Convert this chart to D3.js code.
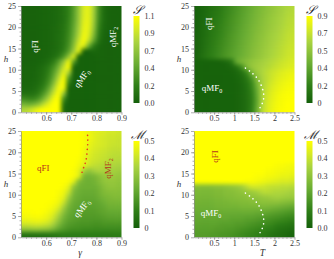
<!DOCTYPE html>
<html>
<head>
<meta charset="utf-8">
<script src="https://cdn.jsdelivr.net/npm/d3@7"></script>
<style>
  body { margin: 0; background: #fff; }
  text { font-family: "Liberation Serif", "Times New Roman", serif; }
</style>
</head>
<body>
<svg id="chart" width="334" height="259"></svg>
<script>
// grid centres
const hRows = [24.375, 23.125, 21.875, 20.625, 19.375, 18.125, 16.875, 15.625, 14.375, 13.125,
               11.875, 10.625, 9.375, 8.125, 6.875, 5.625, 4.375, 3.125, 1.875, 0.625]
const gammaCols = [0.51, 0.53, 0.55, 0.57, 0.59, 0.61, 0.63, 0.65, 0.67, 0.69,
                   0.71, 0.73, 0.75, 0.77, 0.79, 0.81, 0.83, 0.85, 0.87, 0.89]
const tempCols = [0.0625, 0.1875, 0.3125, 0.4375, 0.5625, 0.6875, 0.8125, 0.9375, 1.0625, 1.1875,
                  1.3125, 1.4375, 1.5625, 1.6875, 1.8125, 1.9375, 2.0625, 2.1875, 2.3125, 2.4375]

// S vs gamma (rows top -> bottom)
const sGamma = [
  [.03,.03,.03,.03,.04,.05,.06,.08,.13,.22,.4,.68,.95,1.0,.75,.3,.08,.04,.03,.03],
  [.03,.03,.03,.03,.04,.05,.06,.08,.13,.22,.41,.69,.96,1.0,.74,.29,.08,.04,.03,.03],
  [.03,.03,.03,.03,.04,.05,.06,.08,.13,.23,.42,.7,.97,1.0,.72,.28,.08,.04,.03,.03],
  [.03,.03,.03,.03,.04,.05,.06,.09,.14,.25,.45,.72,1.0,1.0,.7,.25,.07,.04,.03,.03],
  [.03,.03,.03,.03,.04,.05,.07,.09,.15,.26,.47,.76,1.02,.98,.65,.22,.06,.04,.03,.03],
  [.03,.03,.03,.03,.04,.05,.07,.1,.16,.28,.5,.8,1.05,.95,.58,.18,.05,.03,.03,.03],
  [.03,.03,.03,.03,.04,.05,.07,.1,.17,.3,.55,.88,1.08,.85,.45,.13,.04,.03,.03,.03],
  [.03,.03,.03,.03,.04,.05,.07,.1,.18,.33,.62,.98,1.0,.5,.18,.06,.03,.03,.03,.03],
  [.03,.03,.03,.03,.04,.05,.08,.12,.22,.4,.72,1.02,.02,.02,.06,.04,.03,.03,.03,.03],
  [.03,.03,.03,.03,.04,.06,.1,.18,.35,.65,1.0,.02,.02,.02,.02,.04,.03,.03,.03,.03],
  [.03,.03,.03,.04,.06,.1,.2,.4,.7,1.05,.4,.02,.02,.02,.02,.03,.03,.03,.03,.03],
  [.04,.04,.04,.06,.1,.18,.32,.55,.88,1.1,.02,.02,.02,.02,.02,.03,.03,.03,.03,.03],
  [.04,.04,.05,.07,.12,.22,.4,.68,1.0,.8,.02,.02,.02,.02,.02,.03,.03,.03,.03,.03],
  [.04,.04,.05,.08,.14,.26,.48,.82,1.1,.4,.02,.02,.02,.02,.02,.03,.03,.03,.03,.03],
  [.05,.05,.06,.09,.17,.32,.6,.95,1.1,.2,.02,.02,.02,.02,.02,.03,.03,.03,.03,.03],
  [.06,.06,.08,.13,.24,.44,.76,1.05,1.05,.02,.02,.02,.02,.02,.02,.03,.03,.03,.03,.03],
  [.12,.11,.13,.2,.36,.6,.9,1.1,.7,.02,.02,.02,.02,.02,.02,.03,.03,.03,.03,.03],
  [.3,.26,.26,.35,.55,.8,1.05,1.1,.3,.02,.02,.02,.02,.02,.02,.03,.03,.03,.03,.03],
  [.55,.5,.55,.65,.85,1.0,1.1,1.1,.1,.02,.02,.02,.02,.02,.02,.03,.03,.03,.03,.03],
  [.8,.85,.95,1.05,1.1,1.1,1.1,1.1,.05,.02,.02,.02,.02,.02,.02,.03,.03,.03,.03,.03]
]

// S vs T
const sTemp = [
  [.02,.04,.07,.1,.13,.17,.21,.25,.29,.33,.37,.41,.45,.48,.52,.55,.58,.61,.64,.66],
  [.02,.04,.08,.11,.14,.18,.22,.26,.3,.34,.38,.42,.46,.49,.53,.56,.59,.62,.65,.67],
  [.02,.05,.08,.12,.15,.19,.23,.27,.31,.35,.39,.43,.47,.5,.54,.57,.6,.63,.66,.68],
  [.02,.05,.09,.13,.16,.2,.24,.28,.32,.36,.4,.44,.48,.51,.55,.58,.61,.64,.67,.69],
  [.02,.06,.1,.14,.17,.21,.25,.29,.33,.37,.41,.45,.49,.52,.56,.59,.62,.65,.68,.7],
  [.03,.06,.1,.14,.18,.22,.26,.3,.34,.38,.42,.46,.5,.53,.57,.6,.63,.66,.69,.71],
  [.03,.07,.11,.15,.19,.23,.27,.31,.35,.39,.43,.47,.51,.54,.58,.61,.64,.67,.7,.72],
  [.03,.07,.12,.16,.2,.24,.28,.32,.36,.4,.44,.48,.52,.55,.59,.62,.65,.68,.71,.73],
  [.03,.08,.13,.17,.21,.25,.29,.33,.37,.41,.45,.49,.53,.56,.6,.63,.66,.69,.72,.74],
  [.04,.09,.14,.18,.22,.26,.3,.34,.38,.42,.46,.5,.54,.57,.61,.64,.67,.7,.73,.75],
  [.02,.02,.02,.02,.02,.03,.05,.12,.4,.47,.51,.55,.58,.61,.64,.67,.7,.73,.75,.77],
  [.02,.02,.02,.02,.02,.02,.03,.05,.1,.25,.48,.56,.6,.63,.66,.69,.72,.75,.77,.79],
  [.02,.02,.02,.02,.02,.02,.02,.03,.05,.1,.22,.45,.58,.64,.69,.73,.76,.79,.81,.83],
  [.02,.02,.02,.02,.02,.02,.02,.02,.04,.07,.14,.3,.52,.63,.69,.74,.78,.81,.83,.85],
  [.02,.02,.02,.02,.02,.02,.02,.02,.03,.06,.11,.22,.45,.62,.7,.76,.8,.83,.85,.87],
  [.02,.02,.02,.02,.02,.02,.02,.02,.03,.05,.1,.2,.4,.62,.72,.78,.82,.85,.87,.88],
  [.02,.02,.02,.02,.02,.02,.02,.02,.03,.05,.09,.18,.38,.62,.74,.8,.84,.87,.88,.89],
  [.02,.02,.02,.02,.02,.02,.02,.02,.03,.05,.09,.17,.36,.63,.75,.81,.85,.88,.89,.9],
  [.02,.02,.02,.02,.02,.02,.02,.02,.03,.05,.09,.17,.37,.64,.76,.82,.86,.88,.9,.9],
  [.02,.02,.02,.02,.02,.02,.02,.02,.03,.05,.09,.18,.4,.66,.77,.83,.87,.89,.9,.9]
]

// M vs gamma
const mGamma = [
  [.5,.5,.5,.5,.5,.5,.5,.5,.5,.5,.5,.5,.49,.47,.45,.44,.43,.42,.42,.41],
  [.5,.5,.5,.5,.5,.5,.5,.5,.5,.5,.5,.5,.49,.47,.45,.43,.42,.41,.41,.4],
  [.5,.5,.5,.5,.5,.5,.5,.5,.5,.5,.5,.5,.49,.46,.44,.43,.42,.41,.4,.4],
  [.5,.5,.5,.5,.5,.5,.5,.5,.5,.5,.5,.5,.48,.45,.43,.42,.41,.4,.39,.39],
  [.5,.5,.5,.5,.5,.5,.5,.5,.5,.5,.5,.5,.47,.44,.42,.41,.4,.39,.38,.38],
  [.5,.5,.5,.5,.5,.5,.5,.5,.5,.5,.5,.49,.46,.43,.41,.4,.39,.38,.37,.37],
  [.5,.5,.5,.5,.5,.5,.5,.5,.5,.5,.5,.48,.45,.41,.39,.38,.37,.36,.36,.35],
  [.5,.5,.5,.5,.5,.5,.5,.5,.5,.5,.49,.46,.35,.3,.34,.36,.35,.34,.34,.33],
  [.5,.5,.5,.5,.5,.5,.5,.5,.5,.5,.49,.45,.25,.24,.25,.28,.31,.32,.32,.31],
  [.5,.5,.5,.5,.5,.5,.5,.5,.5,.49,.44,.27,.24,.23,.24,.27,.3,.31,.31,.3],
  [.5,.5,.5,.5,.5,.5,.5,.5,.49,.45,.3,.24,.23,.23,.23,.25,.28,.3,.3,.29],
  [.5,.5,.5,.5,.5,.5,.5,.49,.47,.4,.26,.23,.22,.22,.22,.24,.27,.28,.28,.28],
  [.5,.5,.5,.5,.5,.5,.5,.48,.45,.33,.24,.22,.21,.21,.21,.23,.25,.26,.27,.27],
  [.5,.5,.5,.5,.5,.5,.49,.47,.4,.28,.22,.21,.2,.2,.2,.21,.23,.25,.25,.25],
  [.5,.5,.5,.5,.5,.49,.47,.43,.33,.24,.21,.2,.19,.19,.19,.2,.21,.23,.23,.23],
  [.49,.49,.5,.5,.49,.47,.44,.37,.28,.22,.2,.19,.18,.18,.18,.19,.2,.21,.21,.21],
  [.47,.47,.48,.48,.47,.45,.4,.32,.24,.2,.19,.18,.17,.17,.17,.17,.18,.19,.19,.19],
  [.42,.42,.43,.43,.42,.4,.35,.27,.21,.18,.17,.16,.16,.16,.15,.15,.16,.16,.16,.16],
  [.3,.3,.31,.31,.3,.29,.25,.2,.17,.15,.14,.14,.13,.13,.13,.13,.13,.13,.13,.13],
  [.05,.05,.05,.05,.05,.06,.07,.08,.09,.09,.09,.09,.09,.09,.09,.09,.09,.09,.09,.09]
]

// M vs T
const mTemp = [
  [.5,.5,.5,.5,.5,.5,.5,.5,.5,.5,.5,.5,.5,.5,.5,.5,.5,.5,.5,.5],
  [.5,.5,.5,.5,.5,.5,.5,.5,.5,.5,.5,.5,.5,.5,.5,.5,.5,.5,.5,.5],
  [.5,.5,.5,.5,.5,.5,.5,.5,.5,.5,.5,.5,.5,.5,.5,.5,.5,.5,.5,.5],
  [.5,.5,.5,.5,.5,.5,.5,.5,.5,.5,.5,.5,.5,.5,.5,.5,.5,.5,.5,.5],
  [.5,.5,.5,.5,.5,.5,.5,.5,.5,.5,.5,.5,.5,.5,.5,.5,.5,.5,.5,.5],
  [.5,.5,.5,.5,.5,.5,.5,.5,.5,.5,.5,.5,.5,.5,.5,.5,.5,.5,.5,.5],
  [.5,.5,.5,.5,.5,.5,.5,.5,.5,.5,.5,.5,.5,.5,.5,.5,.49,.49,.48,.48],
  [.5,.5,.5,.5,.5,.5,.5,.5,.5,.5,.5,.5,.5,.5,.49,.49,.48,.48,.47,.47],
  [.5,.5,.5,.5,.5,.5,.5,.5,.5,.5,.5,.5,.49,.49,.48,.48,.47,.46,.46,.45],
  [.5,.5,.5,.5,.5,.5,.5,.5,.5,.5,.49,.49,.48,.47,.46,.45,.44,.43,.43,.42],
  [.27,.27,.27,.27,.28,.28,.29,.3,.31,.33,.38,.42,.42,.41,.4,.39,.39,.38,.38,.37],
  [.26,.26,.26,.26,.27,.27,.28,.28,.29,.3,.31,.32,.34,.37,.38,.37,.36,.36,.35,.34],
  [.25,.25,.25,.25,.26,.26,.27,.27,.28,.28,.29,.3,.3,.31,.32,.33,.34,.33,.32,.32],
  [.24,.24,.24,.24,.25,.25,.25,.26,.26,.27,.27,.28,.28,.29,.29,.29,.29,.28,.27,.26],
  [.23,.23,.23,.23,.24,.24,.24,.24,.24,.25,.25,.25,.25,.25,.25,.24,.23,.22,.21,.2],
  [.22,.22,.22,.22,.22,.22,.22,.22,.22,.22,.22,.22,.21,.21,.2,.19,.18,.17,.16,.15],
  [.21,.21,.21,.21,.21,.21,.21,.2,.2,.2,.19,.19,.18,.17,.16,.15,.14,.13,.12,.11],
  [.2,.2,.2,.2,.2,.19,.19,.19,.18,.18,.17,.16,.15,.14,.13,.12,.1,.09,.08,.07],
  [.19,.19,.19,.19,.18,.18,.17,.17,.16,.15,.14,.13,.12,.11,.1,.09,.07,.06,.05,.04],
  [.18,.18,.18,.17,.17,.16,.16,.15,.14,.13,.12,.11,.1,.09,.08,.06,.05,.04,.03,.02]
]

// dotted boundaries
const whiteDotT = [1.28, 1.41, 1.53, 1.63, 1.69, 1.73, 1.73, 1.69, 1.63]
const whiteDotH = [10.4, 9.5, 8.5, 7.2, 5.9, 4.5, 3.1, 1.9, 0.9]
const redDotGamma = [0.743, 0.75, 0.757, 0.761, 0.763, 0.765, 0.766, 0.765]
const redDotH = [15.3, 16.5, 17.7, 18.9, 20.2, 21.4, 22.8, 24.1]

// ticks
const hTicks = [0, 5, 10, 15, 20, 25]
const gammaTicks = [0.6, 0.7, 0.8, 0.9]
const gammaTickLabels = ["0.6", "0.7", "0.8", "0.9"]
const tempTicks = [0.5, 1, 1.5, 2, 2.5]
const tempTickLabels = ["0.5", "1", "1.5", "2", "2.5"]
const cbTicksSG = [0, 0.22, 0.44, 0.66, 0.88, 1.1]
const cbLabelsSG = ["0.0", "0.2", "0.4", "0.7", "0.9", "1.1"]
const cbTicksST = [0, 0.18, 0.36, 0.54, 0.72, 0.9]
const cbLabelsST = ["0", "0.2", "0.4", "0.5", "0.7", "0.9"]
const cbTicksM = [0, 0.1, 0.2, 0.3, 0.4, 0.5]
const cbLabelsMG = ["0", "0.1", "0.2", "0.3", "0.4", "0.5"]
const cbLabelsMT = ["0.0", "0.1", "0.2", "0.3", "0.4", "0.5"]

// colour ramp shared by all panels (fraction of colour-bar max)
const ramp = d3.scaleLinear()
               .domain([0, 0.2, 0.45, 0.7, 0.85, 1])
               .range(["#145f0a", "#2f7f17", "#6aad33", "#a9d33f", "#d6ea25", "#ffff00"])
               .clamp(true)

const svg = d3.select("#chart")
const defs = svg.append("defs")
const plotW = 100.5, plotH = 106.3
const hStep = 1.25

// blur the cell grid a little and keep it opaque up to the edges
const smooth = defs.append("filter").attr("id", "smooth")
                   .attr("x", 0).attr("y", 0).attr("width", 1).attr("height", 1)
                   .attr("color-interpolation-filters", "sRGB")
smooth.append("feGaussianBlur").attr("stdDeviation", 2.2)
smooth.append("feComponentTransfer").append("feFuncA").attr("type", "table").attr("tableValues", "1 1")

const panels = [
  {id: "sg", left: 21, top: 6, cols: gammaCols, step: 0.02, xDomain: [0.5, 0.9], values: sGamma, max: 1.1,
   xTicks: gammaTicks, xLabels: gammaTickLabels, xMinor: d3.range(0.52, 0.9, 0.02), cbTicks: cbTicksSG, cbLabels: cbLabelsSG,
   title: "S", xTitle: null},
  {id: "st", left: 194, top: 6, cols: tempCols, step: 0.125, xDomain: [0, 2.5], values: sTemp, max: 0.9,
   xTicks: tempTicks, xLabels: tempTickLabels, xMinor: d3.range(0.1, 2.5, 0.1), cbTicks: cbTicksST, cbLabels: cbLabelsST,
   title: "S", xTitle: null},
  {id: "mg", left: 21, top: 131, cols: gammaCols, step: 0.02, xDomain: [0.5, 0.9], values: mGamma, max: 0.5,
   xTicks: gammaTicks, xLabels: gammaTickLabels, xMinor: d3.range(0.52, 0.9, 0.02), cbTicks: cbTicksM, cbLabels: cbLabelsMG,
   title: "M", xTitle: "γ", xTitleAt: 0.735},
  {id: "mt", left: 194, top: 131, cols: tempCols, step: 0.125, xDomain: [0, 2.5], values: mTemp, max: 0.5,
   xTicks: tempTicks, xLabels: tempTickLabels, xMinor: d3.range(0.1, 2.5, 0.1), cbTicks: cbTicksM, cbLabels: cbLabelsMT,
   title: "M", xTitle: "T", xTitleAt: 1.7}
]

const scales = {}

panels.forEach(p => {
    const x = d3.scaleLinear().domain(p.xDomain).range([p.left, p.left + plotW])
    const y = d3.scaleLinear().domain([0, 25]).range([p.top + plotH, p.top])
    scales[p.id] = {x, y}
    const g = svg.append("g")

    // heat map cells
    defs.append("clipPath").attr("id", "clip-" + p.id)
        .append("rect").attr("x", p.left).attr("y", p.top).attr("width", plotW).attr("height", plotH)
    const cells = p.values.flatMap((row, i) => row.map((v, j) => ({h: hRows[i], c: p.cols[j], v})))
    g.append("g").attr("clip-path", `url(#clip-${p.id})`)
     .append("g").attr("filter", "url(#smooth)")
     .selectAll("rect")
     .data(cells)
     .join("rect")
     .attr("x", d => x(d.c - p.step / 2))
     .attr("y", d => y(d.h + hStep / 2))
     .attr("width", d => x(d.c + p.step / 2) - x(d.c - p.step / 2) + 0.5)
     .attr("height", d => y(d.h - hStep / 2) - y(d.h + hStep / 2) + 0.5)
     .attr("fill", d => ramp(d.v / p.max))

    // axes
    g.append("g").attr("transform", `translate(0,${p.top + plotH})`)
     .call(d3.axisBottom(x).tickValues(p.xTicks).tickFormat((d, i) => p.xLabels[i])
                           .tickSize(2.5).tickSizeOuter(0).tickPadding(1))
    g.append("g").attr("transform", `translate(0,${p.top + plotH})`)
     .call(d3.axisBottom(x).tickValues(p.xMinor).tickFormat("").tickSize(1.5))
     .call(a => a.select(".domain").remove())
    g.append("g").attr("transform", `translate(${p.left},0)`)
     .call(d3.axisLeft(y).tickValues(hTicks).tickSize(3).tickSizeOuter(0).tickPadding(2))
    g.append("g").attr("transform", `translate(${p.left},0)`)
     .call(d3.axisLeft(y).tickValues(d3.range(1, 25, 1)).tickFormat("").tickSize(1.5))
     .call(a => a.select(".domain").remove())
    g.selectAll(".domain, .tick line").attr("stroke", "#8c8c8c").attr("stroke-width", 0.7)
    g.selectAll(".tick text").attr("fill", "#333").style("font-size", "8px")
     .style("font-family", '"Liberation Serif", serif')

    // h sits between the 15 and 10 tick labels
    g.append("text").attr("x", p.left - 15).attr("y", y(12.5) + 3)
     .attr("text-anchor", "middle").style("font-style", "italic").style("font-size", "9px")
     .attr("fill", "#333").text("h")
    if (p.xTitle) {
        g.append("text").attr("x", x(p.xTitleAt)).attr("y", p.top + plotH + 19)
         .attr("text-anchor", "middle").style("font-style", "italic").style("font-size", "9.5px")
         .attr("fill", "#333").text(p.xTitle)
    }

    // colour bar
    const cbX = p.left + plotW + 12, cbTop = p.top + 10, cbBottom = p.top + 97
    const cb = d3.scaleLinear().domain([0, p.max]).range([cbBottom, cbTop])
    const gradId = "grad-" + p.id
    defs.append("linearGradient").attr("id", gradId)
        .attr("x1", 0).attr("y1", 1).attr("x2", 0).attr("y2", 0)
        .selectAll("stop")
        .data(ramp.domain())
        .join("stop")
        .attr("offset", d => d)
        .attr("stop-color", d => ramp(d))
    g.append("rect").attr("x", cbX).attr("y", cbTop).attr("width", 6).attr("height", cbBottom - cbTop)
     .attr("fill", `url(#${gradId})`)
    g.append("g").attr("transform", `translate(${cbX + 6},0)`)
     .call(d3.axisRight(cb).tickValues(p.cbTicks).tickFormat((d, i) => p.cbLabels[i]).tickSize(0).tickPadding(5))
     .call(a => a.select(".domain").remove())
     .selectAll("text").attr("fill", "#333").style("font-size", "8px")
     .style("font-family", '"Liberation Serif", serif')
    g.append("text").attr("x", cbX + 4).attr("y", cbTop - 2)
     .attr("text-anchor", "middle").style("font-style", "italic").style("font-size", "12px")
     .style("font-family", '"DejaVu Serif", serif').attr("fill", "#222")
     .text(p.title === "M" ? "ℳ" : "𝒮")
})

// dotted boundaries
const dotted = (id, xs, hs, colour) => {
    const {x, y} = scales[id]
    svg.append("path")
       .datum(xs.map((v, i) => [v, hs[i]]))
       .attr("d", d3.line().x(d => x(d[0])).y(d => y(d[1])).curve(d3.curveCatmullRom))
       .attr("fill", "none").attr("stroke", colour).attr("stroke-width", 1.6)
       .attr("stroke-linecap", "round").attr("stroke-dasharray", "0.1 4.6")
}
dotted("st", whiteDotT, whiteDotH, "#fff")
dotted("mt", whiteDotT, whiteDotH, "#fff")
dotted("mg", redDotGamma, redDotH, "#e8361e")

// phase labels
const label = (id, main, sub, xv, hv, angle, colour) => {
    const {x, y} = scales[id]
    const t = svg.append("text")
                 .attr("transform", `translate(${x(xv)},${y(hv)}) rotate(${angle})`)
                 .attr("y", 3).attr("text-anchor", "middle")
                 .style("font-size", "9px").attr("fill", colour)
    t.append("tspan").text(main)
    if (sub) t.append("tspan").attr("dy", 2).style("font-size", "6px").text(sub)
}
label("sg", "qFI", null, 0.556, 15.5, -90, "#fff")
label("sg", "qMF", "0", 0.742, 8, -55, "#fff")
label("sg", "qMF", "2", 0.866, 17.7, -90, "#fff")
label("st", "qFI", null, 0.37, 20.8, -90, "#fff")
label("st", "qMF", "0", 0.45, 5.6, 0, "#fff")
label("mg", "qFI", null, 0.589, 16.2, 0, "#b5341c")
label("mg", "qMF", "2", 0.847, 16.2, -90, "#b5341c")
label("mg", "qMF", "0", 0.742, 6.8, -52, "#fff")
label("mt", "qFI", null, 0.53, 19, -90, "#b5341c")
label("mt", "qMF", "0", 0.42, 5.8, 0, "#fff")
</script>
</body>
</html>
